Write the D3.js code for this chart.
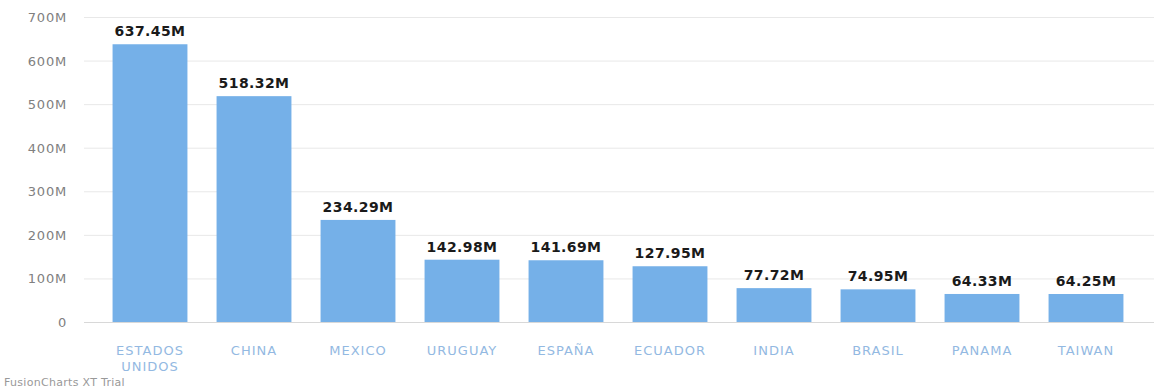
<!DOCTYPE html>
<html>
<head>
<meta charset="utf-8">
<script src="https://cdn.jsdelivr.net/npm/d3@7"></script>
<style>
  body { margin: 0; background: #fff; }
  svg { display: block; font-family: "DejaVu Sans", "Open Sans", sans-serif; }
</style>
</head>
<body>
<div id="chart"></div>
<script>
// data
var countries = ["ESTADOS UNIDOS", "CHINA", "MEXICO", "URUGUAY", "ESPAÑA", "ECUADOR", "INDIA", "BRASIL", "PANAMA", "TAIWAN"];
var values = [637.45, 518.32, 234.29, 142.98, 141.69, 127.95, 77.72, 74.95, 64.33, 64.25];
var yTicks = [0, 100, 200, 300, 400, 500, 600, 700];

var width = 1156;
var height = 391;

var svg = d3.select("#chart").append("svg")
    .attr("width", width)
    .attr("height", height);

var x = d3.scaleBand()
    .domain(countries)
    .range([98, 1138])
    .paddingInner(0.28)
    .paddingOuter(0.14);

var y = d3.scaleLinear()
    .domain([0, 700])
    .range([322, 17]);

// gridlines
svg.append("g")
  .selectAll("line")
  .data(yTicks)
  .enter().append("line")
    .attr("x1", 84)
    .attr("x2", 1154)
    .attr("y1", function(d) { return y(d) + 0.5; })
    .attr("y2", function(d) { return y(d) + 0.5; })
    .attr("stroke", function(d) { return d == 0 ? "#d8d8d8" : "#e8e8e8"; })
    .attr("stroke-width", 1);

// y axis labels
svg.append("g")
  .selectAll("text")
  .data(yTicks)
  .enter().append("text")
    .attr("x", 67)
    .attr("y", function(d) { return y(d) + 5; })
    .attr("text-anchor", "end")
    .attr("font-size", 13)
    .attr("letter-spacing", 0.8)
    .attr("fill", "#808080")
    .text(function(d) { return d == 0 ? "0" : d + "M"; });

var data = countries.map(function(c, i) { return {name: c, value: values[i]}; });

// bars
svg.append("g")
  .selectAll("rect")
  .data(data)
  .enter().append("rect")
    .attr("x", function(d) { return x(d.name); })
    .attr("y", function(d) { return y(d.value); })
    .attr("width", x.bandwidth())
    .attr("height", function(d) { return y(0) - y(d.value); })
    .attr("fill", "#75b0e8");

// value labels
svg.append("g")
  .selectAll("text")
  .data(data)
  .enter().append("text")
    .attr("x", function(d) { return x(d.name) + x.bandwidth() / 2; })
    .attr("y", function(d) { return y(d.value) - 8; })
    .attr("text-anchor", "middle")
    .attr("font-size", 14)
    .attr("font-weight", "bold")
    .attr("letter-spacing", 0.4)
    .attr("fill", "#1a1a1a")
    .text(function(d) { return d.value.toFixed(2) + "M"; });

// category labels, wrapped on spaces
var cat = svg.append("g")
  .selectAll("text")
  .data(countries)
  .enter().append("text")
    .attr("text-anchor", "middle")
    .attr("font-size", 13)
    .attr("letter-spacing", 1)
    .attr("fill", "#93b9e2");

cat.each(function(d) {
    var t = d3.select(this);
    d.split(" ").forEach(function(word, i) {
        t.append("tspan")
            .attr("x", x(d) + x.bandwidth() / 2)
            .attr("y", 355 + i * 16)
            .text(word);
    });
});

svg.append("text")
    .attr("x", 4)
    .attr("y", 386)
    .attr("font-size", 11)
    .attr("letter-spacing", 0.3)
    .attr("fill", "#999")
    .text("FusionCharts XT Trial");
</script>
</body>
</html>
